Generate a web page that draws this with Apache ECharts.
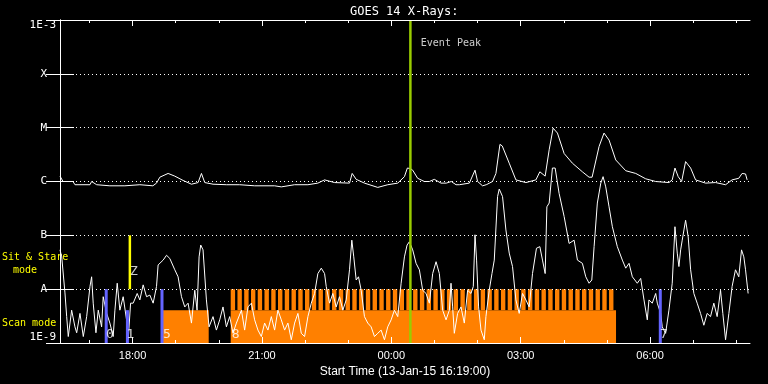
<!DOCTYPE html>
<html><head><meta charset="utf-8">
<script src="https://cdn.jsdelivr.net/npm/echarts@6/dist/echarts.min.js"></script>
<style>html,body{margin:0;padding:0;background:#000}#c{width:768px;height:384px}</style>
</head><body><div id="c"></div><script>
// time in minutes since 13-Jan-15 16:19:00, flux as log10(W/m^2)
const xMajorTicks = [101, 281, 461, 641, 821];
const xMajorLabels = ['18:00', '21:00', '00:00', '03:00', '06:00'];
const xMinorTicks = [41, 101, 161, 221, 281, 341, 401, 461, 521, 581, 641, 701, 761, 821, 881, 941];
const yLevelLabels = ['1E-9', 'A', 'B', 'C', 'M', 'X', '1E-3'];

const longChannel = [[0,-5.90],[2.4,-5.89],[4.2,-6.00],[18.1,-6.00],[20.8,-6.06],[41.7,-6.06],[44.0,-6.00],[51.0,-6.06],[69.4,-6.08],[90.3,-6.08],[111.1,-6.06],[129.2,-6.08],[134.3,-6.03],[138.9,-5.92],[150.4,-5.85],[159.7,-5.90],[171.2,-5.98],[182.9,-6.05],[192.1,-6.02],[196.8,-5.85],[201.4,-6.02],[212.9,-6.05],[231.5,-6.06],[250,-6.06],[270.8,-6.08],[298.6,-6.08],[307.9,-6.10],[326.4,-6.06],[344.9,-6.06],[358.8,-6.03],[368.1,-5.97],[382,-6.02],[402.8,-6.03],[406.5,-5.85],[412.1,-5.96],[423.6,-6.03],[442.1,-6.11],[456,-6.06],[469.9,-6.03],[479.2,-5.91],[483.3,-5.75],[487.5,-5.76],[490.7,-5.79],[497.6,-5.94],[506.9,-6.00],[513.9,-6.00],[520.8,-5.96],[530.1,-6.03],[537.5,-6.03],[544.4,-6.00],[551,-6.06],[555.6,-6.06],[569.5,-6.03],[577.4,-5.79],[581,-6.00],[587.9,-6.08],[593.1,-6.06],[601.8,-6.00],[606.5,-5.85],[612.1,-5.31],[615.3,-5.34],[625,-5.66],[634.3,-5.97],[648.2,-6.02],[662.1,-5.97],[667.6,-5.82],[675,-5.90],[680.6,-5.41],[686.1,-5.01],[692.1,-5.10],[701.4,-5.48],[712.9,-5.66],[726.8,-5.82],[736.1,-5.92],[740.3,-5.92],[750,-5.35],[756.9,-5.10],[763.9,-5.23],[773.2,-5.60],[787.1,-5.80],[801,-5.85],[814.9,-5.95],[828.8,-6.00],[847.2,-6.02],[851.8,-5.97],[855.6,-5.75],[860.1,-5.91],[864.9,-6.00],[870.4,-5.63],[877.4,-5.75],[884.3,-5.97],[898.2,-6.03],[912.1,-6.02],[926,-6.06],[935.1,-5.97],[944.4,-5.94],[949,-5.85],[953.8,-5.86],[956,-5.97]];

const shortChannel = [[0,-7.27],[2.4,-7.40],[6.9,-8.07],[9.3,-8.51],[11.5,-8.88],[16.2,-8.39],[20.8,-8.70],[23.2,-8.81],[27.8,-8.45],[32.4,-8.88],[37.1,-8.51],[41.7,-7.95],[44,-7.77],[46.2,-8.26],[50,-8.81],[53.2,-8.39],[57.9,-8.70],[60.1,-8.14],[64.9,-8.45],[69.4,-8.63],[74,-8.88],[76.4,-8.39],[79.6,-7.89],[83.3,-8.39],[87.9,-8.14],[92.6,-8.57],[94.9,-8.94],[98.2,-8.26],[101.8,-8.26],[107.4,-8.08],[111.1,-8.20],[115.7,-7.92],[120.4,-8.14],[125,-8.11],[129.6,-8.26],[134.3,-7.95],[136.5,-7.55],[143.5,-7.46],[148.2,-7.37],[152.8,-7.43],[159.7,-7.64],[164.3,-7.77],[169,-8.14],[173.6,-8.33],[178.2,-8.26],[182.9,-8.63],[187.5,-8.02],[190.7,-8.39],[193.5,-7.40],[195.8,-7.18],[199,-7.27],[203.7,-8.20],[207.4,-8.70],[212.9,-8.51],[217.6,-8.76],[222.2,-8.57],[226.8,-8.33],[231.5,-8.70],[236.1,-8.51],[240.7,-8.82],[245.4,-8.63],[252.4,-8.39],[256.9,-8.76],[261.5,-8.33],[266.3,-8.26],[270.8,-8.57],[275.4,-8.76],[280.1,-8.88],[284.7,-8.63],[289.3,-8.76],[294,-8.51],[298.6,-8.76],[303.2,-8.39],[307.9,-8.57],[312.5,-8.76],[317.1,-8.63],[321.8,-8.94],[326.4,-8.63],[331,-8.45],[335.7,-8.82],[340.3,-8.88],[344.9,-8.51],[349.6,-8.26],[354.2,-8.08],[358.8,-7.71],[363.5,-7.61],[368.1,-7.71],[370.4,-7.95],[375,-8.26],[379.6,-8.08],[384.3,-8.33],[388.9,-8.14],[393.5,-8.39],[398.2,-8.20],[402.8,-7.64],[406,-7.09],[408.7,-7.40],[412.1,-7.83],[415.3,-7.77],[419,-8.02],[423.6,-8.51],[428.2,-8.63],[432.9,-8.70],[437.5,-8.88],[442.1,-8.82],[446.8,-8.76],[451.4,-8.94],[456,-8.70],[460.7,-8.57],[465.3,-8.39],[469.9,-8.51],[474.6,-7.89],[479.2,-7.40],[482.9,-7.18],[486.1,-7.12],[490.7,-7.27],[495.4,-7.52],[500,-7.64],[504.6,-8.02],[509.3,-8.08],[513.9,-8.26],[518.5,-7.71],[523.2,-7.49],[527.8,-7.71],[532.4,-8.39],[537.1,-8.57],[541.7,-8.39],[544,-7.89],[546.3,-8.33],[548.6,-8.82],[553.2,-8.45],[557.9,-8.33],[562.5,-8.63],[567.1,-8.02],[571.8,-8.08],[575,-7.95],[577.4,-6.99],[579.6,-7.46],[582.4,-8.33],[585.7,-8.76],[590.3,-8.94],[592.6,-8.51],[597.2,-8.02],[601,-7.71],[604.2,-7.46],[608.8,-6.28],[611.1,-6.14],[615.7,-6.28],[620.4,-6.90],[625,-7.33],[629.6,-7.58],[634.3,-8.20],[638.9,-8.45],[643.5,-8.08],[648.2,-8.20],[652.8,-8.33],[657.4,-7.71],[662.9,-7.24],[667.6,-7.21],[671.3,-7.46],[675,-7.71],[677.4,-6.47],[680.6,-6.40],[685.1,-5.75],[688.9,-5.75],[694.4,-6.22],[701.4,-6.65],[708.3,-7.15],[715.3,-7.09],[719.9,-7.46],[726.8,-7.52],[731.5,-7.77],[736.1,-7.89],[739.9,-7.83],[743.1,-7.21],[747.6,-6.40],[752.4,-6.03],[755.6,-5.91],[759.3,-6.10],[763.9,-6.47],[768.5,-6.84],[775.4,-7.21],[782.4,-7.46],[787.1,-7.61],[791.7,-7.52],[796.3,-7.77],[803.2,-7.89],[807.9,-7.80],[812.5,-8.20],[817.1,-8.57],[819.4,-8.20],[824,-8.26],[828.8,-8.08],[831,-8.26],[835.7,-8.45],[837.9,-8.70],[842.6,-8.82],[847.2,-8.39],[851.8,-7.89],[855.6,-6.84],[858.8,-7.33],[861.1,-7.58],[863.5,-7.27],[865.7,-7.09],[868.1,-6.90],[870.4,-6.72],[874,-7.03],[877.4,-7.64],[881.9,-8.08],[886.5,-8.26],[891.2,-8.45],[895.8,-8.67],[900.4,-8.45],[905.1,-8.51],[909.7,-8.26],[914.3,-8.51],[919,-8.02],[922.2,-8.45],[926,-8.94],[930.6,-8.45],[935.1,-7.95],[939.8,-7.64],[944.4,-7.77],[948.2,-7.27],[951.4,-7.40],[953.8,-7.64],[957.4,-8.08]];

// scan-mode blocks [start, end, low, high]
const scanBlocks = [[142.4, 206.9, -9, -8.39], [237.5, 773.6, -9, -8.39]];
// individual scan exposures (start minute) in the upper band
const scanStripeStarts = [237.5,246.9,256.3,265.7,275.1,284.5,293.9,303.3,312.7,322.1,331.5,340.9,350.3,359.7,369.1,378.5,387.9,397.3,406.7,416.1,425.5,434.9,444.3,453.7,463.1,472.5,481.9,491.3,500.7,510.1,519.5,528.9,538.3,547.7,557.1,566.5,575.9,585.3,594.7,604.1,613.5,622.9,632.3,641.7,651.1,660.5,669.9,679.3,688.7,698.1,707.5,716.9,726.3,735.7,745.1,754.5,763.9];
const scanStripeLength = 6.1;
const stripeBand = [-8.39, -8];
// blue marks [time, low, high]
const blueMarks = [[64.3,-9,-8],[93.8,-9,-8.39],[141.9,-9,-8],[835.2,-9,-8]];
const sitStareMarks = [[97.2,-8,-7]];
const eventPeak = [[487.5,-9,-3]];
// small annotation glyphs [time, level, text]
const annotations = [[69.4,-8.84,'0'],[97.9,-8.84,'1'],[102.8,-7.68,'Z'],[148.6,-8.84,'5'],[244.4,-8.84,'8'],[840.3,-8.84,'7']];
const peakLabel = [[502, -3.43, 'Event Peak']];

const stripes = scanStripeStarts.map(s => [s, s + scanStripeLength, stripeBand[0], stripeBand[1]]);

function rectItem(color) {
  return function (params, api) {
    const a = api.coord([api.value(0), api.value(3)]);
    const b = api.coord([api.value(1), api.value(2)]);
    return {type: 'rect', shape: {x: a[0], y: a[1], width: b[0] - a[0], height: b[1] - a[1]}, style: {fill: color}};
  };
}
function vItem(color, w) {
  return function (params, api) {
    const a = api.coord([api.value(0), api.value(1)]);
    const b = api.coord([api.value(0), api.value(2)]);
    return {type: 'rect', shape: {x: a[0] - w / 2, y: b[1], width: w, height: a[1] - b[1]}, style: {fill: color}};
  };
}

const mono = 'DejaVu Sans Mono';
const chart = echarts.init(document.getElementById('c'), null, {renderer: 'canvas'});
const gridRect = {left: 60, right: 18, top: 20, bottom: 41};
chart.setOption({
  backgroundColor: '#000',
  animation: false,
  title: {text: 'GOES 14 X-Rays:', left: 345, top: 1, textStyle: {color: '#fff', fontFamily: mono, fontSize: 12, fontWeight: 'normal'}},
  grid: [Object.assign({}, gridRect), Object.assign({}, gridRect)],
  xAxis: [
    {gridIndex: 0, type: 'value', min: 0, max: 960, position: 'bottom', z: 10,
     axisLine: {show: true, lineStyle: {color: '#fff', width: 1}},
     axisTick: {show: true, inside: true, length: 6, customValues: xMajorTicks, lineStyle: {color: '#fff'}},
     axisLabel: {show: true, customValues: xMajorTicks, margin: 7, color: '#fff', fontFamily: 'Liberation Sans', fontSize: 11,
       formatter: v => xMajorLabels[xMajorTicks.indexOf(Math.round(v))]},
     splitLine: {show: false},
     name: 'Start Time (13-Jan-15 16:19:00)', nameLocation: 'middle', nameGap: 19,
     nameTextStyle: {color: '#fff', fontFamily: 'Liberation Sans', fontSize: 12}},
    {gridIndex: 0, type: 'value', min: 0, max: 960, position: 'top', z: 10,
     axisLine: {show: true, lineStyle: {color: '#fff', width: 1}},
     axisTick: {show: true, inside: true, length: 6, customValues: xMajorTicks, lineStyle: {color: '#fff'}},
     axisLabel: {show: false}, splitLine: {show: false}},
    {gridIndex: 1, type: 'value', min: 0, max: 960, position: 'bottom', z: 10,
     axisLine: {show: false},
     axisTick: {show: true, inside: true, length: 3, customValues: xMinorTicks, lineStyle: {color: '#fff'}},
     axisLabel: {show: false}, splitLine: {show: false}},
    {gridIndex: 1, type: 'value', min: 0, max: 960, position: 'top', z: 10,
     axisLine: {show: false},
     axisTick: {show: true, inside: true, length: 3, customValues: xMinorTicks, lineStyle: {color: '#fff'}},
     axisLabel: {show: false}, splitLine: {show: false}}
  ],
  yAxis: [
    {gridIndex: 0, type: 'value', min: -9, max: -3, interval: 1, position: 'left', z: 10,
     axisLine: {show: true, lineStyle: {color: '#fff', width: 1}},
     axisTick: {show: true, inside: true, length: 14, lineStyle: {color: '#fff'}},
     axisLabel: {show: true, margin: 4, color: '#fff', fontFamily: mono, fontSize: 11,
       verticalAlignMaxLabel: 'top', verticalAlignMinLabel: 'bottom',
       formatter: v => { const s = yLevelLabels[Math.round(v) + 9]; return s.length === 1 ? '{p|' + s + '}' : s; },
       rich: {p: {color: '#fff', fontFamily: mono, fontSize: 11, padding: [0, 9, 0, 0]}}},
     splitLine: {show: true, lineStyle: {color: '#fff', width: 1, type: [1, 3]}}},
    {gridIndex: 0, type: 'value', min: -9, max: -3, interval: 1, position: 'right', z: 10,
     axisLine: {show: true, lineStyle: {color: '#fff', width: 1}},
     axisTick: {show: true, inside: true, length: 14, lineStyle: {color: '#fff'}},
     axisLabel: {show: false}, splitLine: {show: false}},
    {gridIndex: 1, type: 'value', min: -9, max: -3, show: false},
    {gridIndex: 1, type: 'value', min: -9, max: -3, show: false, position: 'right'}
  ],
  graphic: [
    {type: 'text', left: 2, top: 252, style: {text: 'Sit & Stare', fill: '#ffff00', font: '10px "DejaVu Sans Mono"'}},
    {type: 'text', left: 13, top: 265, style: {text: 'mode', fill: '#ffff00', font: '10px "DejaVu Sans Mono"'}},
    {type: 'text', left: 2, top: 318, style: {text: 'Scan mode', fill: '#ffff00', font: '10px "DejaVu Sans Mono"'}}
  ],
  series: [
    {type: 'custom', name: 'scan', xAxisIndex: 0, yAxisIndex: 0, z: 1, renderItem: rectItem('#ff8000'), data: scanBlocks.concat(stripes), clip: true},
    {type: 'line', name: 'long', xAxisIndex: 0, yAxisIndex: 0, z: 3, data: longChannel, showSymbol: false, symbol: 'none',
     lineStyle: {color: '#fff', width: 1}},
    {type: 'line', name: 'short', xAxisIndex: 0, yAxisIndex: 0, z: 3, data: shortChannel, showSymbol: false, symbol: 'none',
     lineStyle: {color: '#fff', width: 1}},
    {type: 'custom', name: 'blue', xAxisIndex: 0, yAxisIndex: 0, z: 4, renderItem: vItem('#6464ff', 3), data: blueMarks},
    {type: 'custom', name: 'sit', xAxisIndex: 0, yAxisIndex: 0, z: 4, renderItem: vItem('#ffff00', 2.5), data: sitStareMarks},
    {type: 'custom', name: 'peak', xAxisIndex: 0, yAxisIndex: 0, z: 4, renderItem: vItem('#99cc00', 2.5), data: eventPeak},
    {type: 'scatter', name: 'ann', xAxisIndex: 0, yAxisIndex: 0, z: 5, symbolSize: 0, data: annotations,
     label: {show: true, position: 'inside', color: '#fff', fontFamily: mono, fontSize: 13, formatter: p => p.value[2]}},
    {type: 'scatter', name: 'peaklabel', xAxisIndex: 0, yAxisIndex: 0, z: 5, symbolSize: 0, data: peakLabel,
     label: {show: true, position: 'right', distance: 0, color: '#fff', fontFamily: mono, fontSize: 10, formatter: p => p.value[2]}}
  ]
});
</script></body></html>
